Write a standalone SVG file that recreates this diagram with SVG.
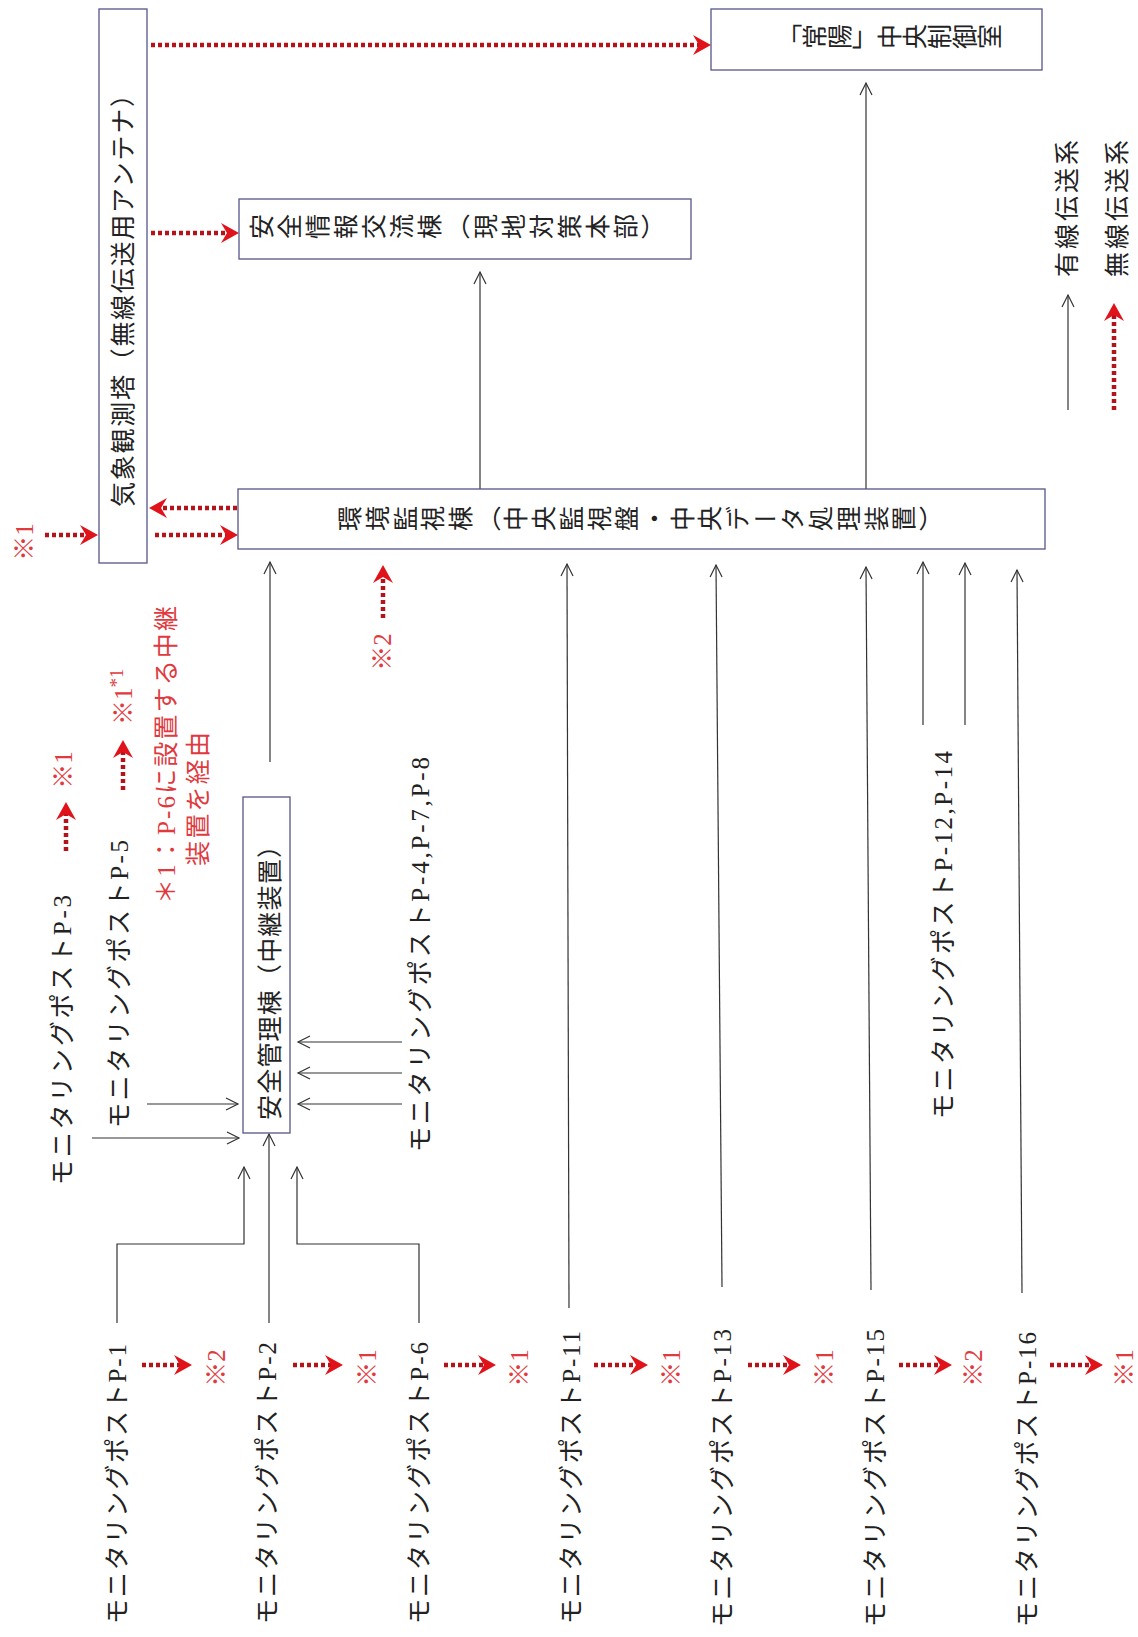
<svg xmlns="http://www.w3.org/2000/svg" width="1138" height="1637" viewBox="0 0 1138 1637">
<style>
.box{fill:#fff;stroke:#55558a;stroke-width:1.3}
.t{font-family:"Liberation Serif","Noto Sans CJK JP",serif;font-size:25px;fill:#222;dominant-baseline:central}
.r{fill:#e0393e}
.vt{writing-mode:vertical-rl;text-anchor:middle}
.w{fill:none;stroke:#333;stroke-width:1.2;marker-end:url(#ah)}
.wl{fill:none;stroke:#b3141c;stroke-width:4.5;stroke-dasharray:4 3;marker-end:url(#rh)}
</style>
<defs>
<marker id="ah" markerUnits="userSpaceOnUse" markerWidth="30" markerHeight="30" orient="auto" overflow="visible">
<path d="M-12,-6 L0,0 L-12,6" fill="none" stroke="#333" stroke-width="1.2"/>
</marker>
<marker id="rh" markerUnits="userSpaceOnUse" markerWidth="30" markerHeight="30" orient="auto" overflow="visible">
<path d="M-10,-10 L8,0 L-10,10 L-4,0 z" fill="#e0131a"/>
</marker>
</defs>
<rect x="0" y="0" width="1138" height="1637" fill="#fff"/>

<g id="connectors">
<path class="w" d="M480,489 V272"/>
<path class="w" d="M866,489 V83"/>
<path class="w" d="M270,762 V562"/>
<path class="w" d="M569,1308 L567,564"/>
<path class="w" d="M722,1287 L716,565"/>
<path class="w" d="M871,1290 L866,567"/>
<path class="w" d="M1022,1293 L1017,570"/>
<path class="w" d="M923,725 V562"/>
<path class="w" d="M965,725 V563"/>
<path class="w" d="M92,1138 H239"/>
<path class="w" d="M147,1104 H238"/>
<path class="w" d="M402,1042 H298"/>
<path class="w" d="M402,1073 H298"/>
<path class="w" d="M402,1104 H298"/>
<path class="w" d="M117,1323 V1244 H244 V1167"/>
<path class="w" d="M269,1323 V1134"/>
<path class="w" d="M419,1323 V1244 H297 V1167"/>
<path class="w" d="M1068,410 V295"/>

<path class="wl" d="M151,45 H703"/>
<path class="wl" d="M151,233 H231"/>
<path class="wl" d="M237,508 H157"/>
<path class="wl" d="M155,535 H230"/>
<path class="wl" d="M45,535 H90"/>
<path class="wl" d="M383,618 V573"/>
<path class="wl" d="M66,851 V810"/>
<path class="wl" d="M123,790 V748"/>
<path class="wl" d="M142,1365 H184"/>
<path class="wl" d="M293,1365 H335"/>
<path class="wl" d="M444,1365 H488"/>
<path class="wl" d="M594,1365 H640"/>
<path class="wl" d="M748,1365 H793"/>
<path class="wl" d="M899,1365 H944"/>
<path class="wl" d="M1050,1365 H1095"/>
<path class="wl" d="M1114,410 V311"/>
</g>

<g id="node-kisho">
<rect class="box" x="99" y="9" width="48" height="554"/>
<text class="t" x="123" y="507" textLength="425" lengthAdjust="spacing" transform="rotate(-90 123 507)">気象観測塔（無線伝送用アンテナ）</text>
</g>
<g id="node-joyo">
<rect class="box" x="711" y="9" width="331" height="61"/>
<text class="t vt" x="889" y="39" transform="rotate(-90 889 39)">「常陽」中央制御室</text>
</g>
<g id="node-anzenjoho">
<rect class="box" x="239" y="199" width="452" height="60"/>
<text class="t vt" x="459" y="229" style="letter-spacing:3px" transform="rotate(-90 459 229)">安全情報交流棟（現地対策本部）</text>
</g>
<g id="node-kankyo">
<rect class="box" x="238" y="489" width="807" height="60"/>
<text class="t vt" x="642" y="521" style="letter-spacing:2.7px" transform="rotate(-90 642 521)">環境監視棟（中央監視盤・中央データ処理装置）</text>
</g>
<g id="node-anzenkanri">
<rect class="box" x="243" y="797" width="47" height="336"/>
<text class="t" x="270" y="1120" textLength="287" lengthAdjust="spacing" transform="rotate(-90 270 1120)">安全管理棟（中継装置）</text>
</g>

<g id="node-p3"><text class="t" x="62" y="1185" textLength="290" lengthAdjust="spacing" transform="rotate(-90 62 1185)">モニタリングポストP-3</text></g>
<g id="node-p5"><text class="t" x="119" y="1128" textLength="288" lengthAdjust="spacing" transform="rotate(-90 119 1128)">モニタリングポストP-5</text></g>
<g id="node-p478"><text class="t" x="420" y="1152" textLength="395" lengthAdjust="spacing" transform="rotate(-90 420 1152)">モニタリングポストP-4,P-7,P-8</text></g>
<g id="node-p1214"><text class="t" x="943" y="1119" textLength="368" lengthAdjust="spacing" transform="rotate(-90 943 1119)">モニタリングポストP-12,P-14</text></g>
<g id="node-p1"><text class="t" x="117" y="1624" textLength="280" lengthAdjust="spacing" transform="rotate(-90 117 1624)">モニタリングポストP-1</text></g>
<g id="node-p2"><text class="t" x="267" y="1624" textLength="282" lengthAdjust="spacing" transform="rotate(-90 267 1624)">モニタリングポストP-2</text></g>
<g id="node-p6"><text class="t" x="419" y="1624" textLength="282" lengthAdjust="spacing" transform="rotate(-90 419 1624)">モニタリングポストP-6</text></g>
<g id="node-p11"><text class="t" x="571" y="1624" textLength="293" lengthAdjust="spacing" transform="rotate(-90 571 1624)">モニタリングポストP-11</text></g>
<g id="node-p13"><text class="t" x="722" y="1627" textLength="298" lengthAdjust="spacing" transform="rotate(-90 722 1627)">モニタリングポストP-13</text></g>
<g id="node-p15"><text class="t" x="875" y="1627" textLength="298" lengthAdjust="spacing" transform="rotate(-90 875 1627)">モニタリングポストP-15</text></g>
<g id="node-p16"><text class="t" x="1027" y="1627" textLength="295" lengthAdjust="spacing" transform="rotate(-90 1027 1627)">モニタリングポストP-16</text></g>

<g id="notes">
<text class="t r" x="24" y="542" text-anchor="middle" transform="rotate(-90 24 542)">※1</text>
<text class="t r" x="63" y="770" text-anchor="middle" transform="rotate(-90 63 770)">※1</text>
<text class="t r" x="123" y="725" transform="rotate(-90 123 725)">※1<tspan font-size="19" dy="-7">*1</tspan></text>
<text class="t r" x="382" y="652" text-anchor="middle" transform="rotate(-90 382 652)">※2</text>
<text class="t r" x="166" y="904" textLength="298" lengthAdjust="spacing" transform="rotate(-90 166 904)">＊1：P-6に設置する中継</text>
<text class="t r" x="198" y="866" textLength="134" lengthAdjust="spacing" transform="rotate(-90 198 866)">装置を経由</text>
<text class="t r" x="216" y="1368" text-anchor="middle" transform="rotate(-90 216 1368)">※2</text>
<text class="t r" x="367" y="1368" text-anchor="middle" transform="rotate(-90 367 1368)">※1</text>
<text class="t r" x="519" y="1368" text-anchor="middle" transform="rotate(-90 519 1368)">※1</text>
<text class="t r" x="671" y="1368" text-anchor="middle" transform="rotate(-90 671 1368)">※1</text>
<text class="t r" x="824" y="1368" text-anchor="middle" transform="rotate(-90 824 1368)">※1</text>
<text class="t r" x="973" y="1368" text-anchor="middle" transform="rotate(-90 973 1368)">※2</text>
<text class="t r" x="1124" y="1368" text-anchor="middle" transform="rotate(-90 1124 1368)">※1</text>
</g>

<g id="legend">
<text class="t" x="1067" y="277" textLength="137" lengthAdjust="spacing" transform="rotate(-90 1067 277)">有線伝送系</text>
<text class="t" x="1117" y="277" textLength="137" lengthAdjust="spacing" transform="rotate(-90 1117 277)">無線伝送系</text>
</g>
</svg>
